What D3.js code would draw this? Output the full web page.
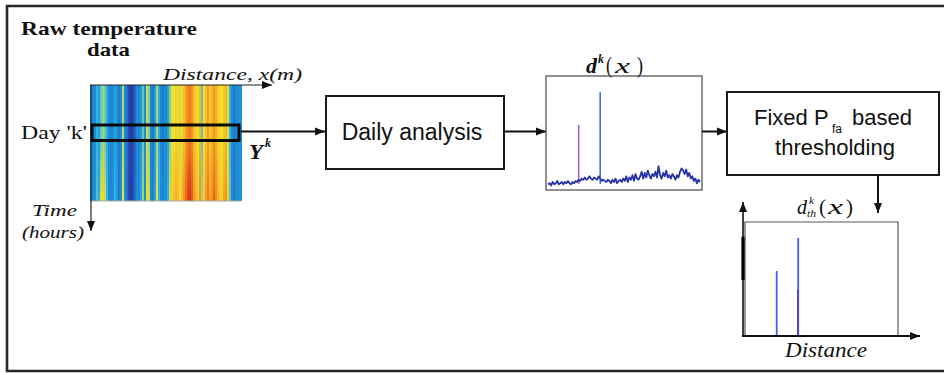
<!DOCTYPE html>
<html>
<head>
<meta charset="utf-8">
<script src="https://cdn.jsdelivr.net/npm/d3@7/dist/d3.min.js"></script>
<style>
  html, body { margin: 0; padding: 0; background: #fff; }
  svg { display: block; }
  .serif { font-family: "Liberation Serif", "Times New Roman", serif; }
  .sans { font-family: "Liberation Sans", Arial, sans-serif; }
</style>
</head>
<body>
<svg id="fig" width="944" height="373"></svg>
<script>
// Raw temperature matrix: one value per distance column, at the start and end of the time window
const heatTop = [0.30,0.28,0.30,0.40,0.35,0.45,0.50,0.46,0.38,0.30,
  0.28,0.30,0.36,0.32,0.25,0.30,0.52,0.30,0.22,0.12,
  0.08,0.10,0.20,0.30,0.28,0.33,0.45,0.30,0.55,0.48,
  0.28,0.25,0.34,0.50,0.38,0.28,0.26,0.30,0.28,0.35,
  0.48,0.58,0.60,0.64,0.62,0.55,0.62,0.68,0.75,0.80,
  0.82,0.78,0.68,0.64,0.62,0.70,0.45,0.60,0.68,0.74,
  0.66,0.70,0.76,0.72,0.64,0.62,0.60,0.66,0.70,0.58,
  0.40,0.30,0.25,0.28,0.30,0.32];
const heatBottom = [0.30,0.28,0.32,0.44,0.38,0.58,0.62,0.56,0.40,0.30,
  0.28,0.32,0.40,0.34,0.25,0.30,0.60,0.30,0.22,0.12,
  0.08,0.12,0.22,0.30,0.30,0.36,0.50,0.30,0.62,0.56,
  0.28,0.26,0.36,0.58,0.40,0.30,0.26,0.32,0.30,0.40,
  0.55,0.66,0.68,0.72,0.70,0.62,0.70,0.78,0.86,0.92,
  0.95,0.88,0.78,0.70,0.66,0.78,0.50,0.66,0.76,0.82,
  0.74,0.78,0.86,0.80,0.72,0.66,0.64,0.74,0.78,0.64,
  0.45,0.30,0.25,0.28,0.30,0.32];

// Daily detection statistic d^k(x) along the distance samples
const dailyStat = [5,6,4,7,5,6,8,5,6,7,
  5,7,6,8,6,5,7,6,8,7,
  9,8,10,9,11,9,10,12,10,9,
  11,10,9,12,10,8,9,8,7,9,
  8,6,9,7,10,6,8,9,7,10,
  8,12,7,11,9,13,8,14,10,9,
  12,16,10,15,11,17,13,10,14,12,
  16,11,21,13,10,15,12,17,11,13,
  10,14,12,9,13,11,16,19,17,14,
  18,12,15,10,12,8,10,6,9,7];
// Detected events: distance index and statistic value
const spikeAt = [20, 34];
const spikeValue = [57, 86];
const spikeColor = ["#a35fd0", "#3f6fe6"];
const overlapValue = 41;          // lower part of the second thresholded event
const thresholdBand = [49, 87];   // marked range on the thresholded plot's axis

const svg = d3.select("#fig");
const defs = svg.append("defs");

defs.append("marker").attr("id", "arrow").attr("viewBox", "0 0 10 10")
  .attr("refX", 10).attr("refY", 5).attr("markerWidth", 10).attr("markerHeight", 10)
  .attr("markerUnits", "userSpaceOnUse").attr("orient", "auto")
  .append("path").attr("d", "M0,1 L10,5 L0,9 Z").attr("fill", "#111");
defs.append("filter").attr("id", "soft").attr("x", "-2%").attr("y", "-2%").attr("width", "104%").attr("height", "104%")
  .append("feGaussianBlur").attr("stdDeviation", "0.7 0.3");

// Outer frame (open on the right)
svg.append("path").attr("d", "M944,6 H7 V371 H944")
  .attr("fill", "none").attr("stroke", "#262626").attr("stroke-width", 2.6);

// ---------- Raw temperature heat map ----------
const heat = { x0: 90, x1: 241, y0: 85, y1: 201 };
const colX = d3.scaleBand().domain(d3.range(heatTop.length)).range([heat.x0, heat.x1]);
const tempColor = d3.scaleLinear()
  .domain([0.05, 0.2, 0.32, 0.42, 0.5, 0.6, 0.7, 0.8, 0.95])
  .range(["#26349a", "#2468c6", "#1e93da", "#38bde6", "#a2d67a", "#f2e22c", "#f7b62a", "#f28722", "#d3301b"])
  .clamp(true);

heatTop.forEach((v, i) => {
  const g = defs.append("linearGradient").attr("id", "col" + i)
    .attr("x1", 0).attr("y1", 0).attr("x2", 0).attr("y2", 1);
  g.append("stop").attr("offset", "0%").attr("stop-color", tempColor(v));
  g.append("stop").attr("offset", "45%").attr("stop-color", tempColor(v));
  g.append("stop").attr("offset", "100%").attr("stop-color", tempColor(heatBottom[i]));
});
svg.append("g").attr("filter", "url(#soft)").selectAll("rect").data(heatTop).join("rect")
  .attr("x", (d, i) => colX(i))
  .attr("y", heat.y0)
  .attr("width", colX.bandwidth() + 0.6)
  .attr("height", heat.y1 - heat.y0)
  .attr("fill", (d, i) => `url(#col${i})`)
  .attr("shape-rendering", "crispEdges");
svg.append("line").attr("x1", heat.x0).attr("x2", heat.x1).attr("y1", heat.y1).attr("y2", heat.y1)
  .attr("stroke", "#aaa").attr("stroke-width", 1);

// Axes of the heat map
svg.append("line").attr("x1", heat.x0).attr("y1", heat.y0).attr("x2", 272).attr("y2", heat.y0)
  .attr("stroke", "#222").attr("stroke-width", 1.2).attr("marker-end", "url(#arrow)");
svg.append("line").attr("x1", 91).attr("y1", heat.y0).attr("x2", 91).attr("y2", 231)
  .attr("stroke", "#222").attr("stroke-width", 1.2).attr("marker-end", "url(#arrow)");

// Highlighted day
svg.append("rect").attr("x", 92).attr("y", 125).attr("width", 147).attr("height", 15.5)
  .attr("fill", "none").attr("stroke", "#0a0a0a").attr("stroke-width", 3);

// Serif text helper, optionally stretched to a given width
function label(t, x, y, size, opts = {}) {
  const el = svg.append("text").attr("class", "serif").attr("x", x).attr("y", y)
    .attr("font-size", size).attr("fill", "#111").text(t);
  if (opts.bold) el.attr("font-weight", "bold");
  if (opts.italic) el.attr("font-style", "italic");
  if (opts.len) el.attr("textLength", opts.len).attr("lengthAdjust", "spacingAndGlyphs");
  return el;
}
label("Raw temperature", 21, 35, 19, { bold: true, len: 176 });
label("data", 87, 56, 19, { bold: true, len: 43 });
label("Distance, x(m)", 163, 80, 17, { italic: true, len: 139 });
label("Day 'k'", 21, 139, 19, { len: 66 });
label("Time", 32, 216, 17.5, { italic: true, len: 45 });
label("(hours)", 22, 238, 17.5, { italic: true, len: 62 });
label("Y", 249, 159, 20, { bold: true, italic: true, len: 14 });
label("k", 265, 147, 12, { bold: true, italic: true });

// ---------- Flow boxes and arrows ----------
function flowArrow(x1, y1, x2, y2) {
  svg.append("line").attr("x1", x1).attr("y1", y1).attr("x2", x2).attr("y2", y2)
    .attr("stroke", "#111").attr("stroke-width", 2).attr("marker-end", "url(#arrow)");
}
flowArrow(241, 131.5, 325, 131.5);
svg.append("rect").attr("x", 326).attr("y", 96).attr("width", 178).attr("height", 73)
  .attr("fill", "#fff").attr("stroke", "#1a1a1a").attr("stroke-width", 2);
svg.append("text").attr("class", "sans").attr("x", 412).attr("y", 140)
  .attr("text-anchor", "middle").attr("font-size", 23).attr("fill", "#111").text("Daily analysis");
flowArrow(504, 131.5, 546, 131.5);

// ---------- Daily statistic plot ----------
const dk = { x0: 546, x1: 702, y0: 76, y1: 190 };
const xDk = d3.scaleLinear().domain([0, dailyStat.length - 1]).range([548, 700]);
const yDk = d3.scaleLinear().domain([0, 100]).range([dk.y1, dk.y0]);
svg.append("rect").attr("x", dk.x0).attr("y", dk.y0).attr("width", dk.x1 - dk.x0).attr("height", dk.y1 - dk.y0)
  .attr("fill", "#fff").attr("stroke", "#555").attr("stroke-width", 1.3);
svg.append("g").selectAll("line").data(spikeAt).join("line")
  .attr("x1", d => xDk(d)).attr("x2", d => xDk(d))
  .attr("y1", yDk(0) - 6).attr("y2", (d, i) => yDk(spikeValue[i]))
  .attr("stroke", (d, i) => spikeColor[i]).attr("stroke-width", 1.6);
svg.append("path").datum(dailyStat)
  .attr("d", d3.line().x((d, i) => xDk(i)).y(d => yDk(d)))
  .attr("fill", "none").attr("stroke", "#2733a4").attr("stroke-width", 1.8)
  .attr("stroke-linejoin", "round");

label("d", 586, 73, 22, { bold: true, italic: true, len: 11 });
label("k", 598, 63, 12, { bold: true, italic: true, len: 6 });
label("(", 606, 73, 24, { len: 6 });
label("x", 615, 73, 22, { italic: true, len: 15 });
label(")", 637, 73, 24, { len: 6 });

flowArrow(702, 131.5, 727, 131.5);

// ---------- Thresholding box ----------
svg.append("rect").attr("x", 727).attr("y", 92).attr("width", 212).attr("height", 83)
  .attr("fill", "#fff").attr("stroke", "#1a1a1a").attr("stroke-width", 2);
const th = svg.append("text").attr("class", "sans").attr("y", 125).attr("font-size", 22).attr("fill", "#111");
th.append("tspan").attr("x", 754).text("Fixed P");
th.append("tspan").attr("x", 832).attr("y", 133).attr("font-size", 12).text("fa");
th.append("tspan").attr("x", 852).attr("y", 125).text("based");
svg.append("text").attr("class", "sans").attr("x", 835).attr("y", 155)
  .attr("text-anchor", "middle").attr("font-size", 22).attr("fill", "#111").text("thresholding");

flowArrow(878, 175, 878, 213);

// ---------- Thresholded statistic plot ----------
const dt = { x0: 745, x1: 898, y0: 222, y1: 336 };
const xDt = d3.scaleLinear().domain([0, dailyStat.length - 1]).range([746, 898]);
const yDt = d3.scaleLinear().domain([0, 100]).range([dt.y1, dt.y0]);
svg.append("path").attr("d", `M${dt.x0},${dt.y1} V${dt.y0} H${dt.x1} V${dt.y1}`)
  .attr("fill", "none").attr("stroke", "#555").attr("stroke-width", 1.2);
svg.append("g").selectAll("line").data(spikeAt).join("line")
  .attr("x1", d => xDt(d)).attr("x2", d => xDt(d))
  .attr("y1", yDt(0)).attr("y2", (d, i) => yDt(spikeValue[i]))
  .attr("stroke", "#3f62e0").attr("stroke-width", 1.8);
svg.append("line").attr("x1", xDt(spikeAt[1]) - 0.5).attr("x2", xDt(spikeAt[1]) - 0.5)
  .attr("y1", yDt(0)).attr("y2", yDt(overlapValue))
  .attr("stroke", "#5a3fb0").attr("stroke-width", 1.4);
// axes
svg.append("line").attr("x1", 743).attr("y1", dt.y1).attr("x2", 743).attr("y2", 202)
  .attr("stroke", "#111").attr("stroke-width", 1.6).attr("marker-end", "url(#arrow)");
svg.append("line").attr("x1", 742).attr("y1", dt.y1).attr("x2", 920).attr("y2", dt.y1)
  .attr("stroke", "#111").attr("stroke-width", 2.2).attr("marker-end", "url(#arrow)");
svg.append("line").attr("x1", 743).attr("x2", 743)
  .attr("y1", yDt(thresholdBand[0])).attr("y2", yDt(thresholdBand[1]))
  .attr("stroke", "#000").attr("stroke-width", 3.2);

label("d", 797, 214, 21, { italic: true, len: 10 });
label("k", 809, 204, 11, { italic: true, len: 5 });
label("th", 807, 217, 11, { italic: true, len: 9 });
label("(", 819, 214, 22, { len: 7 });
label("x", 828, 214, 21, { italic: true, len: 15 });
label(")", 846, 214, 22, { len: 7 });

label("Distance", 785, 357, 20, { italic: true, len: 82 });
</script>
</body>
</html>
